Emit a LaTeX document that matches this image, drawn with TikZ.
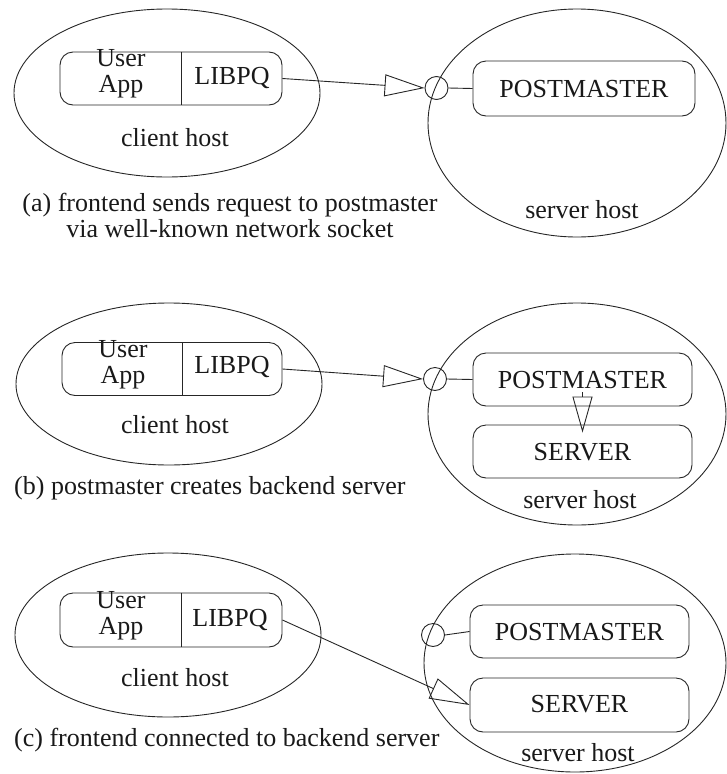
\documentclass[tikz,border=0pt]{standalone}
\usepackage{fontspec}
\setmainfont{Liberation Serif}
\usetikzlibrary{shapes.geometric,arrows.meta}
\tikzset{
  ln/.style={line width=0.9pt, draw=black!85},
  txt/.style={font=\fontsize{26}{26}\selectfont, inner sep=0pt, text=black!90},
  host/.style={ln, ellipse, inner sep=0pt},
  rbox/.style={ln, rounded corners=13pt, inner sep=0pt, minimum width=220pt, minimum height=53pt},
  sock/.style={ln, circle, inner sep=0pt, minimum size=23pt},
  openarr/.style={ln, -{Triangle[open, length=40pt, width=22pt, line width=0.9pt]}},
  openarrv/.style={ln, -{Triangle[open, length=36pt, width=20pt, line width=0.9pt]}},
}
\begin{document}
\begin{tikzpicture}[x=1pt, y=-1pt]
\useasboundingbox (0,0) rectangle (727,774);

% ---------------- panel (a)
\node[host, minimum width=306pt, minimum height=168pt] (chA) at (167,93) {};
\node[rbox, minimum width=222pt] (cbA) at (171,78.5) {};
\draw[ln] ([xshift=122pt]cbA.north west) -- ([xshift=122pt]cbA.south west);
\node[txt, align=center] (userA) at (121,74) {User\\App};
\node[txt] (libA) at (232,78) {LIBPQ};
\node[txt] (chlA) at (175,138) {client host};
\node[host, minimum width=298pt, minimum height=228pt] (shA) at (577,123) {};
\node[rbox, minimum width=222pt, minimum height=55pt] (pmA) at (584,88.5) {};
\node[txt] (pmtA) at (584,89) {POSTMASTER};
\node[sock] (skA) at (436.5,88) {};
\node[txt] (shlA) at (582,210) {server host};
\node[txt, align=center] (capA) at (230,215) {(a) frontend sends request to postmaster\\via well-known network socket};
\draw[openarr] (cbA.east) -- (skA.west);
\draw[ln] (skA.east) -- (pmA.west);

% ---------------- panel (b)
\node[host, minimum width=306pt, minimum height=162pt] (chB) at (169,384) {};
\node[rbox] (cbB) at (172,369) {};
\draw[ln] ([xshift=121pt]cbB.north west) -- ([xshift=121pt]cbB.south west);
\node[txt, align=center] (userB) at (123,365) {User\\App};
\node[txt] (libB) at (232,367) {LIBPQ};
\node[txt] (chlB) at (175,425) {client host};
\node[host, minimum width=298pt, minimum height=222pt] (shB) at (577,414) {};
\node[rbox, minimum width=219pt] (pmB) at (582.5,379.5) {};
\node[txt] (pmtB) at (582.5,380) {POSTMASTER};
\node[rbox, minimum width=219pt] (svB) at (582.5,451.5) {};
\node[txt] (svtB) at (582.5,452) {SERVER};
\node[sock] (skB) at (435,379) {};
\node[txt] (shlB) at (580,500) {server host};
\node[txt, anchor=west] (capB) at (14,488) {(b) postmaster creates backend server};
\draw[openarr] (cbB.east) -- (skB.west);
\draw[ln] (skB.east) -- (pmB.west);
\draw[openarrv] ([yshift=14pt]pmB.south) -- ([yshift=-8pt]svB.north);

% ---------------- panel (c)
\node[host, minimum width=306pt, minimum height=164pt] (chC) at (168,635) {};
\node[rbox, minimum width=222pt, minimum height=54pt] (cbC) at (171,620) {};
\draw[ln] ([xshift=122pt]cbC.north west) -- ([xshift=122pt]cbC.south west);
\node[txt, align=center] (userC) at (121,616) {User\\App};
\node[txt] (libC) at (230,620) {LIBPQ};
\node[txt] (chlC) at (175,678) {client host};
\node[host, minimum width=302pt, minimum height=218pt] (shC) at (575,663) {};
\node[rbox, minimum width=219pt] (pmC) at (579.5,631.5) {};
\node[txt] (pmtC) at (579.5,632) {POSTMASTER};
\node[rbox, minimum width=219pt, minimum height=54pt] (svC) at (579.5,705) {};
\node[txt] (svtC) at (579.5,704) {SERVER};
\node[sock] (skC) at (433,635) {};
\node[txt] (shlC) at (578,753) {server host};
\node[txt, anchor=west] (capC) at (14,740) {(c) frontend connected to backend server};
\draw[ln] (skC.east) -- (pmC.west);
\draw[openarr] (cbC.east) -- (svC.west);
\end{tikzpicture}
\end{document}
